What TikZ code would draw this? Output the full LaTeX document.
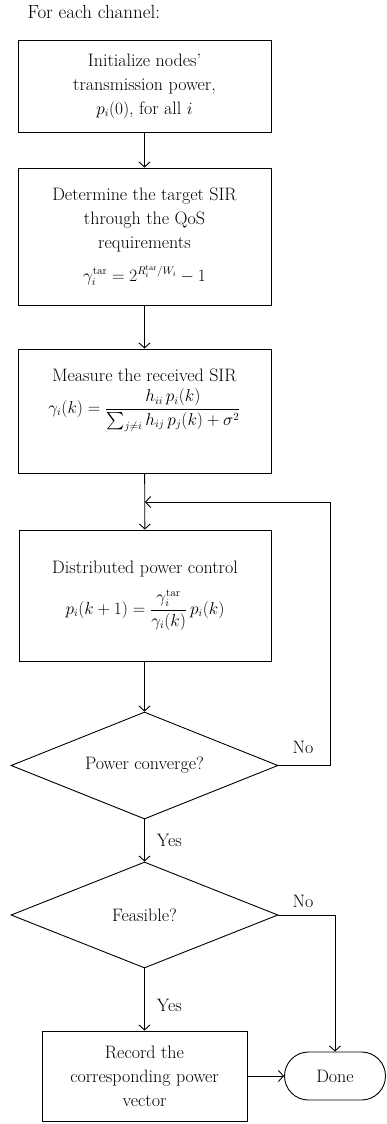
\documentclass[tikz,border=0pt]{standalone}
\usepackage{amsmath}
\usetikzlibrary{arrows.meta,shapes.geometric}
\newcommand{\mathsz}{\fontsize{16}{22}\selectfont}
\begin{document}
\begin{tikzpicture}[x=1pt,y=1pt,
  every node/.style={font=\fontsize{18}{24}\selectfont},
  flowbox/.style={draw,line width=0.9pt,rectangle,inner sep=0pt,align=center},
  decision/.style={draw,line width=0.9pt,diamond,shape aspect=2.5,inner sep=0pt,minimum width=267pt,minimum height=107pt},
  terminal/.style={draw,line width=0.9pt,rectangle,rounded corners=24pt,inner sep=0pt,minimum width=101pt,minimum height=48pt},
  flow/.style={line width=0.9pt,-{Straight Barb[length=5pt,width=11pt]}},
  edge/.style={line width=0.9pt},
  branch/.style={inner sep=0pt}]
\useasboundingbox (0,0) rectangle (386,-1124);

\node[anchor=west] (title) at (24,-12) {\fontsize{19}{24}\selectfont For each channel:};

\node[flowbox,minimum width=253pt,minimum height=92pt] (init) at (144.5,-86)
  {Initialize nodes’\\ transmission power,\\ {\mathsz$p_i(0)$}, for all {\mathsz$i$}};

\node[flowbox,minimum width=253pt,minimum height=137pt] (target) at (144.5,-236.5)
  {Determine the target SIR\\ through the QoS\\ requirements\\[9pt]
   {\mathsz$\gamma_i^{\mathrm{tar}} = 2^{R_i^{\mathrm{tar}}/W_i} - 1$}};

% text sits in the upper part of this box
\node[flowbox,minimum width=253pt,minimum height=124pt] (measure) at (144.5,-411)
  {Measure the received SIR\\[6pt]
   {\mathsz$\gamma_i(k) = \dfrac{h_{ii}\,p_i(k)}{\sum_{j\neq i} h_{ij}\,p_j(k) + \sigma^2}
   \rule[-40pt]{0pt}{1pt}$}};

\node[flowbox,minimum width=252pt,minimum height=131pt] (dpc) at (145,-595.5)
  {Distributed power control\\[12pt]
   {\mathsz$p_i(k+1) = \dfrac{\gamma_i^{\mathrm{tar}}}{\gamma_i(k)}\, p_i(k)$}};

\node[decision] (conv) at (144.5,-765.5) {Power converge?};
\node[decision,minimum height=106pt] (feas) at (144.5,-915) {Feasible?};

\node[flowbox,minimum width=205pt,minimum height=90pt] (record) at (144.5,-1076)
  {Record the\\ corresponding power\\ vector};
\node[terminal] (done) at (335,-1076) {Done};

% main flow
\draw[flow] (init) -- (target);
\draw[flow] (target) -- (measure);
\draw[flow] (measure) -- (dpc);
\draw[flow] (dpc.south -| conv.north) -- (conv.north);
\draw[flow] (conv) -- (feas) node[branch,pos=0.5,right=12pt] (yes1) {Yes};
\draw[flow] (feas) -- (record) node[branch,pos=0.6,right=12pt] (yes2) {Yes};
\draw[flow] (record) -- (done);

% loop back when the power has not converged
\coordinate (loopbr) at (330,-765.5);
\coordinate (looptr) at (330,-502);
\coordinate (loopin) at (145,-502);
\draw[edge] (conv.east) -- (loopbr) -- (looptr);
\draw[flow] (looptr) -- (loopin);
\node[branch] (no1) at (303,-747) {No};

% infeasible case goes straight to the end
\coordinate (feasbr) at (335,-915);
\draw[edge] (feas.east) -- (feasbr);
\draw[flow] (feasbr) -- (done.north);
\node[branch] (no2) at (303,-901) {No};
\end{tikzpicture}
\end{document}
